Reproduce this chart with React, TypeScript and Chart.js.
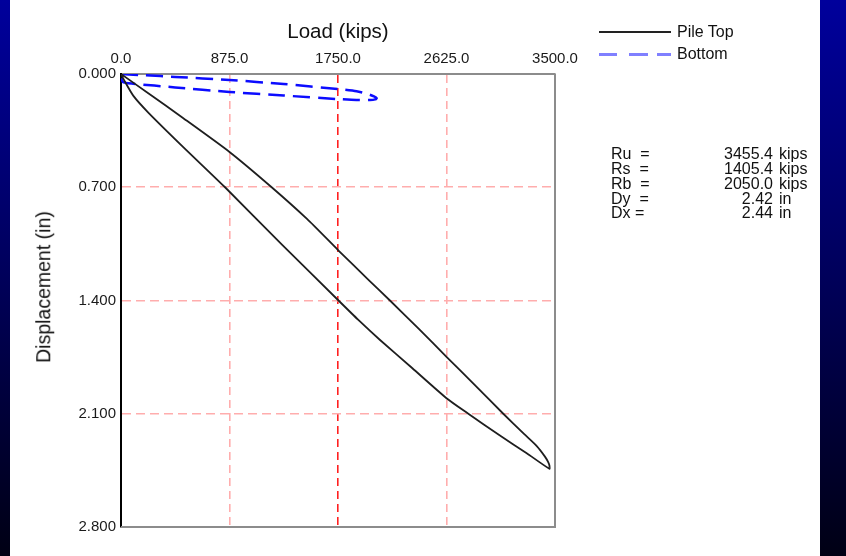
import React, { useEffect, useRef } from "react";
import { Chart, registerables } from "chart.js";

Chart.register(...registerables);

// ---- data ----
const xTickValues = [0, 875, 1750, 2625, 3500];
const yTickValues = [0, 0.7, 1.4, 2.1, 2.8];

// Pile Top: load (kips) and displacement (in), loading branch then unloading branch
const pileTopLoad = [
  0, 220, 500, 875, 1215, 1500, 1750, 2000, 2169, 2400, 2625, 2850, 3083, 3250, 3353, 3419, 3446, 3455, 3455,
  3272, 3050, 2801, 2625, 2350, 2089, 1914, 1750, 1300, 839, 500, 220, 100, 30, 0,
];
const pileTopDisp = [
  0, 0.119, 0.272, 0.482, 0.7, 0.896, 1.088, 1.275, 1.4, 1.574, 1.748, 1.92, 2.1, 2.225, 2.3, 2.365, 2.4, 2.42, 2.44,
  2.344, 2.232, 2.1, 2.004, 1.819, 1.644, 1.52, 1.397, 1.056, 0.7, 0.45, 0.238, 0.135, 0.045, 0,
];

// Bottom
const bottomLoad = [
  0, 200, 437, 875, 1312, 1750, 1900, 1975, 2040, 2062, 2050, 2008, 1898, 1750, 1312, 875, 437, 100, 15, 0,
];
const bottomDisp = [
  0, 0.008, 0.018, 0.037, 0.062, 0.093, 0.107, 0.12, 0.138, 0.15, 0.157, 0.161, 0.161, 0.155, 0.133, 0.111, 0.083, 0.06,
  0.05, 0,
];

const statLabels = ["Ru  =", "Rs  =", "Rb  =", "Dy  =", "Dx ="];
const statValues = ["3455.4", "1405.4", "2050.0", "2.42", "2.44"];
const statUnits = ["kips", "kips", "kips", "in", "in"];

const FONT = 'Arial, "Liberation Sans", sans-serif';

export default function App() {
  const canvasRef = useRef<HTMLCanvasElement | null>(null);

  useEffect(() => {
    const canvas = canvasRef.current;
    if (!canvas) return;

    const framePlugin = {
      id: "frame",
      afterDraw(chart: any) {
        const { ctx, chartArea } = chart;
        ctx.save();
        ctx.strokeStyle = "#8c8c8c";
        ctx.lineWidth = 2;
        ctx.beginPath();
        ctx.moveTo(chartArea.right, chartArea.top);
        ctx.lineTo(chartArea.right, chartArea.bottom);
        ctx.lineTo(chartArea.left, chartArea.bottom);
        ctx.stroke();
        ctx.restore();
      },
    };

    const chart = new Chart(canvas, {
      type: "scatter",
      data: {
        datasets: [
          {
            label: "Pile Top",
            data: pileTopLoad.map((x, i) => ({ x, y: pileTopDisp[i] })),
            showLine: true,
            borderColor: "#1e1e1e",
            borderWidth: 1.8,
            pointRadius: 0,
            tension: 0.2,
          },
          {
            label: "Bottom",
            data: bottomLoad.map((x, i) => ({ x, y: bottomDisp[i] })),
            showLine: true,
            borderColor: "#0c0cff",
            borderWidth: 2.5,
            borderDash: [17, 8],
            pointRadius: 0,
            tension: 0.2,
          },
        ],
      },
      options: {
        responsive: false,
        maintainAspectRatio: false,
        animation: false,
        layout: { padding: { left: 0, top: 0, right: 291, bottom: 29 } },
        plugins: {
          legend: { display: false },
          tooltip: { enabled: false },
        },
        scales: {
          x: {
            type: "linear",
            position: "top",
            min: 0,
            max: 3500,
            afterBuildTicks: (s: any) => {
              s.ticks = xTickValues.map((v) => ({ value: v }));
            },
            afterFit: (s: any) => {
              s.height = 74;
            },
            ticks: {
              callback: (v: any) => Number(v).toFixed(1),
              font: { family: FONT, size: 15 },
              color: "#1a1a1a",
              padding: 6,
              maxRotation: 0,
              autoSkip: false,
            },
            grid: {
              drawTicks: false,
              color: (ctx: any) => {
                const v = ctx.tick ? ctx.tick.value : null;
                if (v === 0 || v === 3500) return "rgba(0,0,0,0)";
                if (v === 1750) return "#ff2020";
                return "#ffadad";
              },
              lineWidth: 1.6,
            },
            border: { display: true, color: "#8c8c8c", width: 2, dash: [8, 5] },
          },
          y: {
            type: "linear",
            reverse: true,
            min: 0,
            max: 2.8,
            afterBuildTicks: (s: any) => {
              s.ticks = yTickValues.map((v) => ({ value: v }));
            },
            afterFit: (s: any) => {
              s.width = 121;
            },
            ticks: {
              callback: (v: any) => Number(v).toFixed(3),
              font: { family: FONT, size: 15 },
              color: "#1a1a1a",
              padding: 5,
              autoSkip: false,
            },
            grid: {
              drawTicks: false,
              color: (ctx: any) => {
                const v = ctx.tick ? ctx.tick.value : null;
                if (v === 0 || v === 2.8) return "rgba(0,0,0,0)";
                return "#ffadad";
              },
              lineWidth: 1.6,
            },
            border: { display: true, color: "#000000", width: 2, dash: [9, 5] },
          },
        },
      },
      plugins: [framePlugin],
    } as any);

    return () => chart.destroy();
  }, []);

  const grad = "linear-gradient(180deg, #00009c 0%, #00005a 50%, #000014 100%)";

  return (
    <div
      style={{
        position: "fixed",
        left: 0,
        top: 0,
        width: 846,
        height: 556,
        background: grad,
        overflow: "hidden",
        fontFamily: FONT,
        color: "#111",
      }}
    >
      <div style={{ position: "absolute", left: 10, top: 0, width: 810, height: 556, background: "#ffffff" }} />
      <canvas
        ref={canvasRef}
        width={846}
        height={556}
        style={{ position: "absolute", left: 0, top: 0, width: 846, height: 556 }}
      />
      {/* axis titles */}
      <div
        style={{
          position: "absolute",
          left: 338,
          top: 31,
          transform: "translate(-50%, -50%)",
          fontSize: 20.5,
          whiteSpace: "nowrap",
          lineHeight: 1,
        }}
      >
        Load (kips)
      </div>
      <div
        style={{
          position: "absolute",
          left: 44,
          top: 287,
          transform: "translate(-50%, -50%) rotate(-90deg)",
          fontSize: 19.5,
          whiteSpace: "nowrap",
          lineHeight: 1,
        }}
      >
        Displacement (in)
      </div>
      {/* legend */}
      <div style={{ position: "absolute", left: 599, top: 31, width: 72, height: 2, background: "#222" }} />
      <div
        style={{ position: "absolute", left: 677, top: 32, transform: "translateY(-50%)", fontSize: 16, lineHeight: 1, whiteSpace: "nowrap" }}
      >
        Pile Top
      </div>
      <div style={{ position: "absolute", left: 599, top: 53, width: 18, height: 3, background: "#8080ff" }} />
      <div style={{ position: "absolute", left: 629, top: 53, width: 19, height: 3, background: "#8080ff" }} />
      <div style={{ position: "absolute", left: 657, top: 53, width: 14, height: 3, background: "#8080ff" }} />
      <div
        style={{ position: "absolute", left: 677, top: 54, transform: "translateY(-50%)", fontSize: 16, lineHeight: 1, whiteSpace: "nowrap" }}
      >
        Bottom
      </div>
      {/* results */}
      {statLabels.map((lab, i) => (
        <React.Fragment key={lab}>
          <div
            style={{
              position: "absolute",
              left: 611,
              top: 154.3 + i * 14.75,
              transform: "translateY(-50%)",
              fontSize: 16,
              lineHeight: 1,
              whiteSpace: "pre",
            }}
          >
            {lab}
          </div>
          <div
            style={{
              position: "absolute",
              right: 846 - 773,
              top: 154.3 + i * 14.75,
              transform: "translateY(-50%)",
              fontSize: 16,
              lineHeight: 1,
              whiteSpace: "pre",
              textAlign: "right",
            }}
          >
            {statValues[i]}
          </div>
          <div
            style={{
              position: "absolute",
              left: 779,
              top: 154.3 + i * 14.75,
              transform: "translateY(-50%)",
              fontSize: 16,
              lineHeight: 1,
              whiteSpace: "pre",
            }}
          >
            {statUnits[i]}
          </div>
        </React.Fragment>
      ))}
    </div>
  );
}
